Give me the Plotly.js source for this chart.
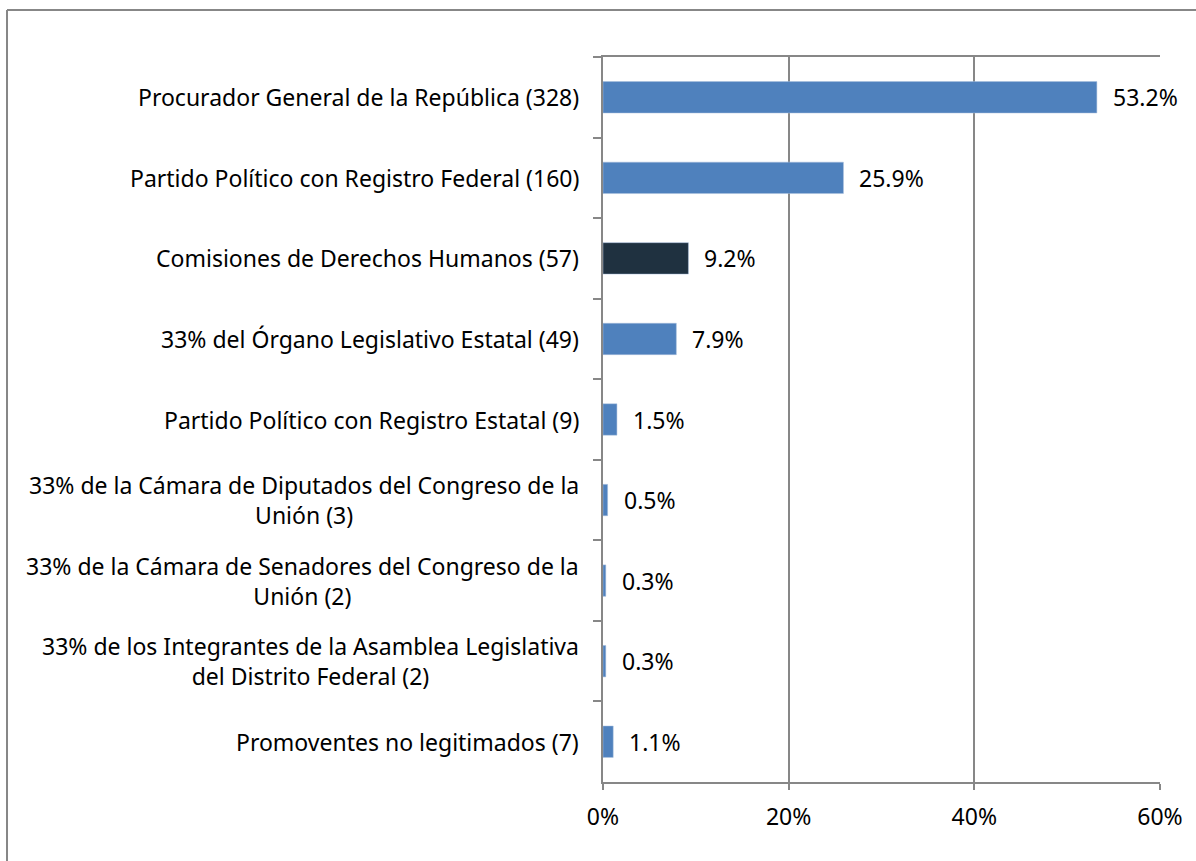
<!DOCTYPE html>
<html>
<head>
<meta charset="utf-8">
<script src="https://cdn.plot.ly/plotly-3.0.1.min.js"></script>
<style>html,body{margin:0;padding:0;background:#fff;}#chart{width:1196px;height:861px;}</style>
</head>
<body>
<div id="chart"></div>
<script>
const categories = [
  "Procurador General de la República (328)",
  "Partido Político con Registro Federal (160)",
  "Comisiones de Derechos Humanos (57)",
  "33% del Órgano Legislativo Estatal (49)",
  "Partido Político con Registro Estatal (9)",
  "33% de la Cámara de Diputados del Congreso de la<br>Unión (3)",
  "33% de la Cámara de Senadores del Congreso de la<br>Unión (2)",
  "33% de los Integrantes de la Asamblea Legislativa<br>del Distrito Federal (2)",
  "Promoventes no legitimados (7)"
];
const percentages = [53.2, 25.9, 9.2, 7.9, 1.5, 0.5, 0.3, 0.3, 1.1];
const valueLabels = ["53.2%", "25.9%", "9.2%", "7.9%", "1.5%", "0.5%", "0.3%", "0.3%", "1.1%"];
const barColors = ["#4F81BD", "#4F81BD", "#1F3140", "#4F81BD", "#4F81BD", "#4F81BD", "#4F81BD", "#4F81BD", "#4F81BD"];
const xTickValues = [0, 20, 40, 60];
const xTickLabels = ["0%", "20%", "40%", "60%"];

const FONT = "Noto Sans, Open Sans, sans-serif";
const FS = 23;
const GRAY = "#878787";

const trace = {
  type: "bar",
  orientation: "h",
  x: percentages,
  y: categories,
  marker: { color: barColors, line: { color: "#A9BFDC", width: 0.5 } },
  hoverinfo: "none"
};

const annotations = [];
categories.forEach((c, i) => {
  annotations.push({
    x: 0, xref: "paper", xanchor: "right", xshift: -22,
    y: c, yref: "y", yanchor: "middle",
    text: c, showarrow: false, align: "center",
    font: { family: FONT, size: FS, color: "#000" }
  });
  annotations.push({
    x: percentages[i], xref: "x", xanchor: "left", xshift: 14,
    y: c, yref: "y", yanchor: "middle",
    text: valueLabels[i], showarrow: false,
    font: { family: FONT, size: FS, color: "#000" }
  });
});

const layout = {
  width: 1196, height: 861,
  margin: { l: 603, r: 36, t: 57, b: 79, pad: 0 },
  paper_bgcolor: "#fff", plot_bgcolor: "#fff",
  showlegend: false,
  bargap: 0.61,
  font: { family: FONT, size: FS, color: "#000" },
  xaxis: {
    range: [0, 60],
    tickvals: xTickValues, ticktext: xTickLabels,
    showgrid: true, gridcolor: GRAY, gridwidth: 2,
    zeroline: false,
    showline: true, linecolor: GRAY, linewidth: 2, mirror: true,
    ticks: "outside", ticklen: 6, tickwidth: 2, tickcolor: GRAY,
    ticklabelstandoff: 7,
    tickfont: { family: FONT, size: FS, color: "#000" },
    fixedrange: true
  },
  yaxis: {
    type: "category",
    autorange: "reversed",
    showticklabels: false,
    showgrid: false, zeroline: false,
    showline: true, linecolor: GRAY, linewidth: 2,
    ticks: "outside", tickson: "boundaries", ticklen: 8, tickwidth: 2, tickcolor: GRAY,
    fixedrange: true
  },
  annotations: annotations,
  shapes: [
    { type: "line", xref: "paper", yref: "paper", x0: -1.070, x1: 1.2, y0: 1.0648, y1: 1.0648, line: { color: GRAY, width: 2 } },
    { type: "line", xref: "paper", yref: "paper", x0: -1.070, x1: -1.070, y0: 1.0648, y1: -0.12, line: { color: GRAY, width: 2 } }
  ]
};

Plotly.newPlot("chart", [trace], layout, { displayModeBar: false, staticPlot: true });
</script>
</body>
</html>
